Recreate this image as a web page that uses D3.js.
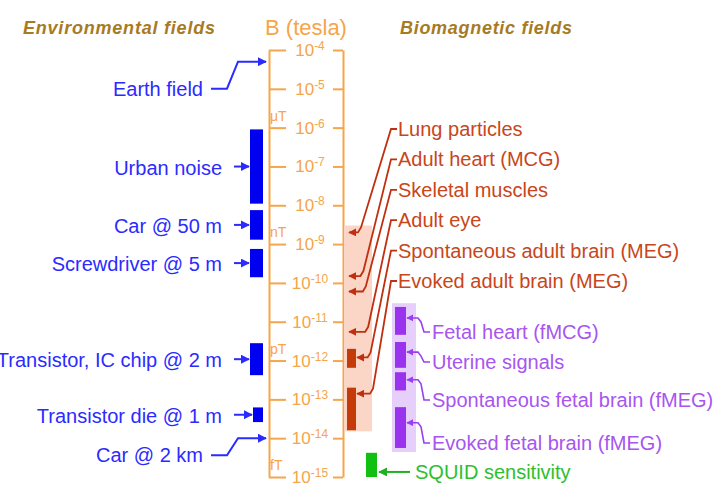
<!DOCTYPE html>
<html>
<head>
<meta charset="utf-8">
<script src="https://cdn.jsdelivr.net/npm/d3@7"></script>
<style>
  body { margin: 0; background: #fff; }
  svg { font-family: "Liberation Sans", Arial, sans-serif; }
</style>
</head>
<body>
<svg width="713" height="486"></svg>
<script>
  // tick exponents of the tesla axis
  const exponents = [-4, -5, -6, -7, -8, -9, -10, -11, -12, -13, -14, -15];
  const units = [['μT', 1e-6], ['nT', 1e-9], ['pT', 1e-12], ['fT', 1e-15]];

  // environmental fields: [label, low, high]
  const envNames = ['Urban noise', 'Car @ 50 m', 'Screwdriver @ 5 m', 'Transistor, IC chip @ 2 m', 'Transistor die @ 1 m'];
  const envLow = [1.1e-8, 1.3e-9, 1.4e-10, 4.2e-13, 2.6e-14];
  const envHigh = [9e-7, 7.5e-9, 7.5e-10, 2.8e-12, 6.2e-14];
  // single-value environmental fields
  const envPointNames = ['Earth field', 'Car @ 2 km'];
  const envPointValues = [5e-5, 1e-14];

  // biomagnetic (adult)
  const adultRange = [1.5e-14, 3e-9];
  const adultNames = ['Lung particles', 'Adult heart (MCG)', 'Skeletal muscles', 'Adult eye',
    'Spontaneous adult brain (MEG)', 'Evoked adult brain (MEG)'];
  const adultTarget = [2e-9, 1.5e-10, 6e-11, 5.5e-12, 1.2e-12, 1.4e-13];
  const adultBarLow = [null, null, null, null, 6.5e-13, 1.6e-14];
  const adultBarHigh = [null, null, null, null, 2e-12, 2e-13];

  // fetal
  const fetalRange = [4.4e-15, 3e-11];
  const fetalNames = ['Fetal heart (fMCG)', 'Uterine signals', 'Spontaneous fetal brain (fMEG)', 'Evoked fetal brain (fMEG)'];
  const fetalLow = [4.6e-12, 6.5e-13, 1.7e-13, 5.6e-15];
  const fetalHigh = [2.4e-11, 3e-12, 5e-13, 6.3e-14];
  const fetalTarget = [1.25e-11, 1.65e-12, 3.2e-13, 2.5e-14];

  // SQUID
  const squidRange = [1e-15, 4.2e-15];
  const squidTarget = 1.35e-15;

  const svg = d3.select('svg');
  const y = d3.scaleLog().domain([1e-4, 1e-15]).range([50, 477]);

  const orange = '#f5a54a';
  const blue = '#2b2bff';
  const red = '#c8461a';
  const purple = '#a855f0';
  const green = '#2ec02e';
  const labelSize = 20;

  const defs = svg.append('defs');
  const marker = (id, color) => defs.append('marker')
    .attr('id', id)
    .attr('viewBox', '0 0 10 10')
    .attr('refX', 9).attr('refY', 5)
    .attr('markerWidth', 4.5).attr('markerHeight', 4.5)
    .attr('markerUnits', 'strokeWidth')
    .attr('orient', 'auto')
    .append('path').attr('d', 'M0,0 L10,5 L0,10 z').attr('fill', color);
  marker('arrBlue', blue);
  marker('arrRed', '#c03010');
  marker('arrPurple', '#9a3ff0');
  marker('arrGreen', '#20b020');

  // Titles
  svg.append('text').attr('x', 23).attr('y', 34)
    .attr('font-size', 18).attr('font-weight', 'bold').attr('font-style', 'italic')
    .attr('fill', '#a87a22').attr('textLength', 192).text('Environmental fields');
  svg.append('text').attr('x', 400).attr('y', 34)
    .attr('font-size', 18).attr('font-weight', 'bold').attr('font-style', 'italic')
    .attr('fill', '#a87a22').attr('textLength', 172).text('Biomagnetic fields');
  svg.append('text').attr('x', 306).attr('y', 35).attr('text-anchor', 'middle')
    .attr('font-size', 22).attr('fill', orange).text('B (tesla)');

  // Axis
  const tickVals = exponents.map(e => Math.pow(10, e));
  const leftAxis = d3.axisRight(y).tickValues(tickVals).tickSize(17).tickSizeOuter(0).tickFormat('');
  const rightAxis = d3.axisLeft(y).tickValues(tickVals).tickSize(10).tickSizeOuter(0).tickFormat('');
  [[leftAxis, 269], [rightAxis, 343]].forEach(([ax, x]) => {
    const g = svg.append('g').attr('transform', `translate(${x},0)`).call(ax);
    g.selectAll('path, line').attr('stroke', orange).attr('stroke-width', 2);
  });

  const tl = svg.append('g').selectAll('text').data(exponents).join('text')
    .attr('x', 310).attr('y', d => y(Math.pow(10, d)) + 6)
    .attr('text-anchor', 'middle')
    .attr('fill', orange).attr('font-size', 17);
  tl.append('tspan').text('10');
  tl.append('tspan').attr('dy', -6).attr('font-size', 12).text(d => '-' + (-d));

  svg.append('g').selectAll('text').data(units).join('text')
    .attr('x', 270).attr('y', d => y(d[1]) - 7)
    .attr('fill', orange).attr('font-size', 14).text(d => d[0]);

  // Environmental bars
  const env = svg.append('g');
  envNames.forEach((name, i) => {
    const top = y(envHigh[i]), bot = y(envLow[i]);
    const mid = (top + bot) / 2;
    const narrow = bot - top < 20;
    env.append('rect').attr('x', narrow ? 253 : 250).attr('width', narrow ? 10 : 13)
      .attr('y', top).attr('height', bot - top).attr('fill', '#0000f0');
    env.append('line').attr('x1', 234).attr('x2', narrow ? 252 : 249)
      .attr('y1', mid).attr('y2', mid)
      .attr('stroke', blue).attr('stroke-width', 2).attr('marker-end', 'url(#arrBlue)');
    env.append('text').attr('x', 222).attr('y', mid + 8)
      .attr('text-anchor', 'end').attr('font-size', labelSize).attr('fill', blue).text(name);
  });

  const pointDy = [27, 17];
  envPointNames.forEach((name, i) => {
    const v = y(envPointValues[i]);
    const ly = v + pointDy[i];
    env.append('path')
      .attr('d', `M211,${ly} H227 L238,${v} H266`)
      .attr('fill', 'none').attr('stroke', blue).attr('stroke-width', 2)
      .attr('marker-end', 'url(#arrBlue)');
    env.append('text').attr('x', 203).attr('y', ly + 7)
      .attr('text-anchor', 'end').attr('font-size', labelSize).attr('fill', blue).text(name);
  });

  // Adult biomagnetic
  const bio = svg.append('g');
  bio.append('rect').attr('x', 344).attr('width', 28)
    .attr('y', y(adultRange[1])).attr('height', y(adultRange[0]) - y(adultRange[1]))
    .attr('fill', '#fbd5c5');
  adultNames.forEach((name, i) => {
    const ly = 129 + i * 30.4;
    const ty = y(adultTarget[i]);
    const hasBar = adultBarLow[i] !== null;
    if (hasBar) {
      bio.append('rect').attr('x', 347).attr('width', 9)
        .attr('y', y(adultBarHigh[i])).attr('height', y(adultBarLow[i]) - y(adultBarHigh[i]))
        .attr('fill', '#c43a08');
    }
    const ex = 358 + i * 2.4;
    bio.append('path')
      .attr('d', `M397,${ly} H391 L${ex + 3},${ty - 5} L${ex},${ty} H${hasBar ? 357 : 349}`)
      .attr('fill', 'none').attr('stroke', '#c03010').attr('stroke-width', 1.8)
      .attr('marker-end', 'url(#arrRed)');
    bio.append('text').attr('x', 398).attr('y', ly + 7)
      .attr('font-size', labelSize).attr('fill', red).text(name);
  });

  // Fetal
  const fet = svg.append('g');
  fet.append('rect').attr('x', 392).attr('width', 24)
    .attr('y', y(fetalRange[1])).attr('height', y(fetalRange[0]) - y(fetalRange[1]))
    .attr('fill', '#e6cffa');
  const fetalLabelY = [332, 362, 400, 443];
  fetalNames.forEach((name, i) => {
    const top = y(fetalHigh[i]), bot = y(fetalLow[i]);
    fet.append('rect').attr('x', 395).attr('width', 11)
      .attr('y', top).attr('height', bot - top).attr('fill', '#9933ee');
    const ty = y(fetalTarget[i]);
    const ly = fetalLabelY[i];
    fet.append('path')
      .attr('d', `M430,${ly} H424 L421,${ty + 4} L418,${ty} H407`)
      .attr('fill', 'none').attr('stroke', '#9a3ff0').attr('stroke-width', 1.6)
      .attr('marker-end', 'url(#arrPurple)');
    fet.append('text').attr('x', 432).attr('y', ly + 7)
      .attr('font-size', labelSize).attr('fill', purple).text(name);
  });

  // SQUID
  svg.append('rect').attr('x', 366).attr('width', 11)
    .attr('y', y(squidRange[1])).attr('height', y(squidRange[0]) - y(squidRange[1]))
    .attr('fill', '#12c012');
  svg.append('line').attr('x1', 410).attr('x2', 379)
    .attr('y1', y(squidTarget)).attr('y2', y(squidTarget))
    .attr('stroke', '#20b020').attr('stroke-width', 2).attr('marker-end', 'url(#arrGreen)');
  svg.append('text').attr('x', 415).attr('y', y(squidTarget) + 7)
    .attr('font-size', labelSize).attr('fill', green).text('SQUID sensitivity');
</script>
</body>
</html>
